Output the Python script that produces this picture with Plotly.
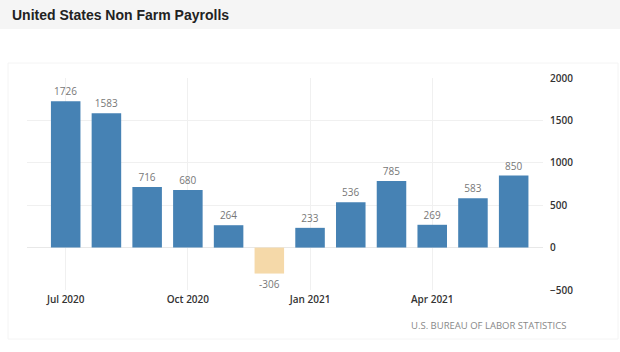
import plotly.graph_objects as go

months = ["Jul 2020", "Aug 2020", "Sep 2020", "Oct 2020", "Nov 2020", "Dec 2020",
          "Jan 2021", "Feb 2021", "Mar 2021", "Apr 2021", "May 2021", "Jun 2021"]
payrolls = [1726, 1583, 716, 680, 264, -306, 233, 536, 785, 269, 583, 850]
tick_labels = ["Jul 2020", "Oct 2020", "Jan 2021", "Apr 2021"]
y_ticks = [-500, 0, 500, 1000, 1500, 2000]

x_idx = list(range(len(months)))
tick_pos = [months.index(t) for t in tick_labels]
colors = ["#4682B4" if v >= 0 else "#F5D9A9" for v in payrolls]

fig = go.Figure()
fig.add_trace(go.Bar(
    x=x_idx, y=payrolls, width=0.725,
    marker=dict(color=colors, line=dict(width=0)),
    text=[str(v) for v in payrolls], textposition="outside",
    textfont=dict(family="Open Sans", size=10, color="#777777"),
    constraintext="none", cliponaxis=False,
    hovertext=months, hoverinfo="text+y",
))

L, R, T, B = 27, 77, 78, 62
W, H = 620, 352
pw, ph = W - L - R, H - T - B

def px_x(p):
    return (p - L) / pw

def px_y(p):
    return (H - B - p) / ph

fig.update_layout(
    width=W, height=H,
    margin=dict(l=L, r=R, t=T, b=B),
    paper_bgcolor="white", plot_bgcolor="white",
    showlegend=False,
    bargap=0.2,
    xaxis=dict(
        range=[-0.95, 11.72], tickmode="array", tickvals=tick_pos, ticktext=tick_labels,
        showgrid=True, gridcolor="#f0f0f0", gridwidth=1, zeroline=False,
        showline=False, ticks="", ticklabelstandoff=2,
        tickfont=dict(family="Open Sans", size=10, color="#333333", weight=600),
    ),
    yaxis=dict(
        range=[-500, 2000], side="right", tickmode="array", tickvals=y_ticks,
        showgrid=True, gridcolor="#f0f0f0", gridwidth=1,
        zeroline=True, zerolinecolor="#e8e8e8", zerolinewidth=1,
        showline=False, ticks="", ticklabelstandoff=6,
        tickfont=dict(family="Open Sans", size=10, color="#333333", weight=600),
    ),
    shapes=[
        dict(type="rect", xref="paper", yref="paper",
             x0=px_x(0), x1=px_x(W), y0=px_y(29), y1=px_y(0),
             fillcolor="#f5f5f5", line=dict(width=0), layer="below"),
        dict(type="rect", xref="paper", yref="paper",
             x0=px_x(8), x1=px_x(618), y0=px_y(339), y1=px_y(63),
             fillcolor="rgba(0,0,0,0)", line=dict(color="#f4f4f4", width=1), layer="below"),
    ],
    annotations=[
        dict(text="<b>United States Non Farm Payrolls</b>", xref="paper", yref="paper",
             x=px_x(10), y=px_y(14.5), xanchor="left", yanchor="middle", showarrow=False,
             font=dict(family="Liberation Sans, Arial", size=14, color="#222222")),
        dict(text="U.S. BUREAU OF LABOR STATISTICS", xref="paper", yref="paper",
             x=px_x(568), y=px_y(325), xanchor="right", yanchor="middle", showarrow=False,
             font=dict(family="Open Sans", size=9.5, color="#888888")),
    ],
)

fig.write_html("out.html")
